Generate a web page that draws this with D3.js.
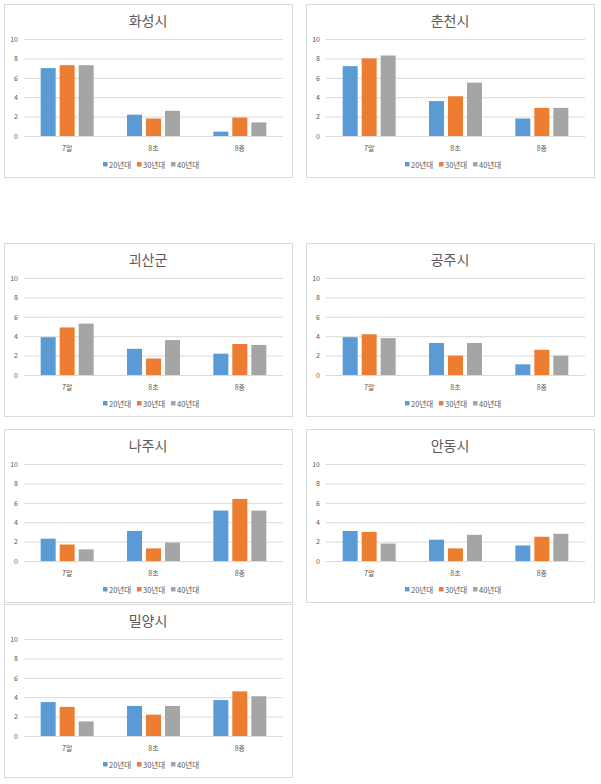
<!DOCTYPE html>
<html><head><meta charset="utf-8">
<script src="https://cdn.jsdelivr.net/npm/d3@7"></script>
<style>html,body{margin:0;padding:0;background:#fff;}svg{display:block;}</style>
</head><body>
<script>
const regions = ["화성시","춘천시","괴산군","공주시","나주시","안동시","밀양시"];
const categories = ["7말","8초","8중"];
const seriesNames = ["20년대","30년대","40년대"];
const s20 = [[7.0,2.2,0.45],[7.2,3.6,1.8],[3.9,2.7,2.2],[3.9,3.3,1.1],[2.3,3.1,5.2],[3.1,2.2,1.6],[3.5,3.1,3.7]];
const s30 = [[7.3,1.8,1.9],[8.0,4.1,2.9],[4.9,1.7,3.2],[4.2,2.0,2.6],[1.7,1.3,6.4],[3.0,1.3,2.5],[3.0,2.2,4.6]];
const s40 = [[7.3,2.6,1.4],[8.3,5.5,2.9],[5.3,3.6,3.1],[3.8,3.3,2.0],[1.2,1.9,5.2],[1.8,2.7,2.8],[1.5,3.1,4.1]];
const yTicks = [0,2,4,6,8,10];

const colors = ["#5B9BD5","#ED7D31","#A5A5A5"];
const font = "'Noto Sans CJK KR','Noto Sans',sans-serif";
const W = 601, H = 784;
const colX = [4, 306];
const rowY = [4, 243, 429, 604];
const pw = 288, ph = 173;

const svg = d3.select("body").append("svg").attr("width", W).attr("height", H);

const x0 = d3.scaleBand().domain(categories).range([20, 279]).padding(0);
const x1 = d3.scaleBand().domain(seriesNames).range([0, 53]).paddingInner(0.21).paddingOuter(0);
const y = d3.scaleLinear().domain([0, 10]).range([132, 35]);

regions.forEach((name, i) => {
  const g = svg.append("g").attr("transform", `translate(${colX[i % 2]},${rowY[Math.floor(i / 2)]})`);
  g.append("rect").attr("x", 0.5).attr("y", 0.5).attr("width", pw).attr("height", ph)
    .attr("fill", "#fff").attr("stroke", "#D9D9D9").attr("stroke-width", 1);
  g.append("text").attr("x", pw / 2).attr("y", 22).attr("text-anchor", "middle")
    .attr("font-family", font).attr("font-size", 14).attr("fill", "#595959").text(name);

  const yAxis = d3.axisLeft(y).tickValues(yTicks).tickSize(-(279 - 20)).tickPadding(6);
  const ya = g.append("g").attr("transform", "translate(20,0)").call(yAxis);
  ya.select(".domain").remove();
  ya.selectAll(".tick line").attr("stroke", "#D9D9D9");
  ya.selectAll(".tick text").attr("font-family", font).attr("font-size", 7).attr("fill", "#595959");

  const vals = [s20[i], s30[i], s40[i]];
  categories.forEach((c, ci) => {
    const cx = x0(c) + x0.bandwidth() / 2 - 26.5;
    seriesNames.forEach((s, si) => {
      const v = vals[si][ci];
      g.append("rect").attr("x", cx + x1(s)).attr("y", y(v))
        .attr("width", x1.bandwidth()).attr("height", y(0) - y(v)).attr("fill", colors[si]);
    });
    g.append("text").attr("x", x0(c) + x0.bandwidth() / 2).attr("y", 147)
      .attr("text-anchor", "middle").attr("font-family", font).attr("font-size", 7)
      .attr("fill", "#595959").text(c);
  });

  const legX = [99, 133, 167];
  seriesNames.forEach((s, si) => {
    g.append("rect").attr("x", legX[si]).attr("y", 158).attr("width", 4.5).attr("height", 4.5).attr("fill", colors[si]);
    g.append("text").attr("x", legX[si] + 6).attr("y", 163.5).attr("font-family", font)
      .attr("font-size", 7.5).attr("fill", "#595959").text(s);
  });
});
</script>
</body></html>
